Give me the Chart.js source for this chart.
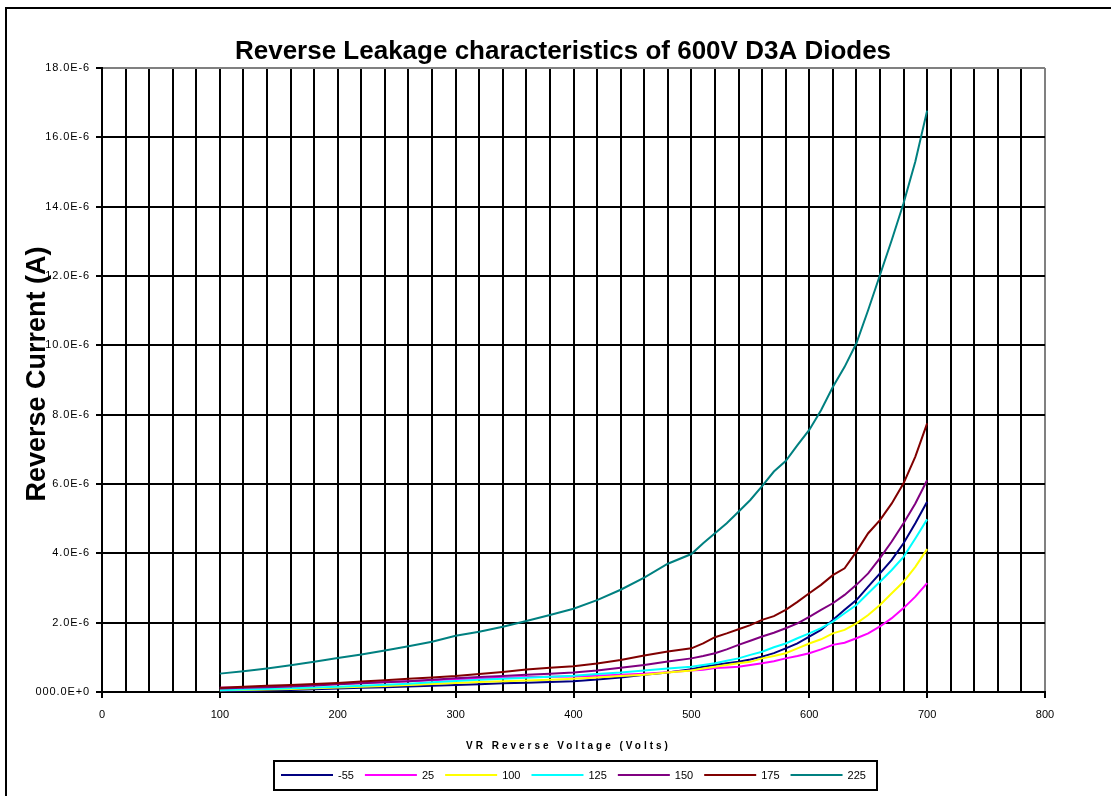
<!DOCTYPE html>
<html>
<head>
<meta charset="utf-8">
<script src="https://cdn.jsdelivr.net/npm/chart.js@4/dist/chart.umd.min.js"></script>
<style>
  html, body { margin: 0; padding: 0; background: #fff; }
  #wrap { width: 1111px; height: 796px; position: relative; }
</style>
</head>
<body>
<div id="wrap"><canvas id="c" width="1111" height="796"></canvas></div>
<script>
// ---- data (current values in units of 1E-6 A) ----
const voltages = [100,120,140,160,180,200,220,240,260,280,300,320,340,360,380,400,420,440,460,480,
                  500,510,520,530,540,550,560,570,580,590,600,610,620,630,640,650,660,670,680,690,700];
const seriesNames = ['-55','25','100','125','150','175','225'];
const seriesColors = ['#000080','#FF00FF','#FFFF00','#00FFFF','#800080','#800000','#008080'];
const iM55 = [0.00,0.02,0.04,0.06,0.08,0.10,0.12,0.14,0.16,0.18,0.20,0.22,0.25,0.27,0.29,0.31,0.36,0.42,0.50,0.56,
              0.66,0.73,0.78,0.83,0.87,0.94,1.02,1.12,1.26,1.40,1.60,1.79,2.08,2.37,2.65,3.04,3.42,3.81,4.29,4.87,5.49];
const i25  = [0.12,0.13,0.15,0.17,0.20,0.24,0.27,0.29,0.31,0.34,0.37,0.39,0.41,0.43,0.44,0.45,0.47,0.50,0.53,0.57,
              0.62,0.64,0.69,0.71,0.73,0.78,0.83,0.89,0.97,1.04,1.12,1.23,1.36,1.42,1.55,1.69,1.89,2.13,2.42,2.75,3.14];
const i100 = [0.05,0.06,0.07,0.09,0.11,0.13,0.15,0.17,0.20,0.23,0.26,0.29,0.31,0.33,0.35,0.38,0.42,0.46,0.50,0.56,
              0.62,0.68,0.73,0.78,0.83,0.87,0.97,1.04,1.12,1.26,1.40,1.52,1.69,1.79,1.98,2.22,2.51,2.85,3.18,3.61,4.12];
const i125 = [0.05,0.07,0.09,0.11,0.13,0.15,0.18,0.21,0.24,0.28,0.32,0.35,0.38,0.41,0.44,0.47,0.52,0.56,0.62,0.68,
              0.73,0.78,0.83,0.90,0.97,1.07,1.16,1.29,1.40,1.55,1.69,1.84,2.03,2.27,2.51,2.85,3.18,3.52,3.90,4.43,4.98];
const i150 = [0.10,0.12,0.14,0.16,0.19,0.22,0.25,0.28,0.31,0.35,0.40,0.43,0.46,0.50,0.53,0.56,0.62,0.70,0.78,0.88,
              0.97,1.04,1.12,1.23,1.36,1.48,1.60,1.71,1.84,1.98,2.17,2.37,2.56,2.80,3.09,3.42,3.86,4.34,4.87,5.44,6.11];
const i175 = [0.12,0.15,0.18,0.20,0.23,0.26,0.30,0.34,0.38,0.42,0.46,0.52,0.58,0.65,0.70,0.74,0.82,0.92,1.05,1.17,
              1.26,1.40,1.58,1.69,1.81,1.93,2.08,2.19,2.37,2.60,2.85,3.09,3.37,3.57,4.05,4.58,4.96,5.44,6.02,6.79,7.75];
const i225 = [0.53,0.60,0.68,0.77,0.87,0.98,1.08,1.20,1.32,1.45,1.62,1.74,1.88,2.05,2.22,2.40,2.65,2.95,3.30,3.70,
              3.98,4.29,4.58,4.87,5.20,5.54,5.94,6.36,6.66,7.12,7.56,8.13,8.80,9.38,10.06,11.02,12.03,13.04,14.10,15.30,16.77];
const seriesValues = [iM55, i25, i100, i125, i150, i175, i225];
const yTickLabels = ['000.0E+0','2.0E-6','4.0E-6','6.0E-6','8.0E-6','10.0E-6','12.0E-6','14.0E-6','16.0E-6','18.0E-6'];
const titleText = 'Reverse Leakage characteristics of 600V D3A Diodes';
const xTitleText = 'VR Reverse Voltage (Volts)';
const yTitleText = 'Reverse Current (A)';

const FONT = '"Liberation Sans", Arial, sans-serif';

const datasets = seriesNames.map((name, i) => ({
  label: name,
  data: voltages.map((v, k) => ({ x: v, y: seriesValues[i][k] })),
  borderColor: seriesColors[i],
  backgroundColor: seriesColors[i],
  borderWidth: 2,
  pointRadius: 0,
  tension: 0,
  fill: false,
  order: seriesNames.length - i
}));

const decor = {
  id: 'decor',
  beforeDraw(chart) {
    const ctx = chart.ctx;
    ctx.save();
    ctx.fillStyle = '#fff';
    ctx.fillRect(0, 0, chart.width, chart.height);
    ctx.restore();
    const ys = chart.scales.y;
    if (ys && !ys._lsPatched) {
      const orig = ys.drawLabels.bind(ys);
      ys.drawLabels = function (area) {
        const c = this.ctx;
        c.save();
        c.letterSpacing = '0.9px';
        orig(area);
        c.restore();
      };
      ys._lsPatched = true;
    }
  },
  afterDraw(chart) {
    const ctx = chart.ctx;
    ctx.save();
    // outer frame
    ctx.strokeStyle = '#000';
    ctx.lineWidth = 2;
    ctx.beginPath();
    ctx.moveTo(6, 800); ctx.lineTo(6, 8); ctx.lineTo(1115, 8);
    ctx.stroke();

    // title
    ctx.fillStyle = '#000';
    ctx.font = 'bold 26px ' + FONT;
    ctx.textAlign = 'center';
    ctx.textBaseline = 'alphabetic';
    ctx.fillText(titleText, 563, 59);

    // y title
    ctx.save();
    ctx.translate(45, 374);
    ctx.rotate(-Math.PI / 2);
    ctx.font = 'bold 27px ' + FONT;
    ctx.textAlign = 'center';
    ctx.textBaseline = 'alphabetic';
    ctx.fillText(yTitleText, 0, 0);
    ctx.restore();

    // x title
    ctx.save();
    ctx.font = 'bold 10px ' + FONT;
    ctx.letterSpacing = '3px';
    ctx.textAlign = 'left';
    ctx.textBaseline = 'alphabetic';
    ctx.fillText(xTitleText, 466, 749);
    ctx.restore();

    // legend
    ctx.lineWidth = 2;
    ctx.strokeStyle = '#000';
    ctx.strokeRect(274, 761, 603, 29);
    ctx.font = '11px ' + FONT;
    ctx.textAlign = 'left';
    ctx.textBaseline = 'middle';
    let x = 281;
    const ly = 775;
    chart.data.datasets.forEach(ds => {
      ctx.strokeStyle = ds.borderColor;
      ctx.lineWidth = 2;
      ctx.beginPath();
      ctx.moveTo(x, ly); ctx.lineTo(x + 52, ly);
      ctx.stroke();
      ctx.fillStyle = '#000';
      ctx.fillText(ds.label, x + 57, ly + 1);
      x += 52 + 5 + ctx.measureText(ds.label).width + 11;
    });
    ctx.restore();
  }
};

new Chart(document.getElementById('c'), {
  type: 'line',
  data: { datasets },
  plugins: [decor],
  options: {
    responsive: false,
    animation: false,
    devicePixelRatio: 1,
    layout: { padding: { top: 68, right: 66, left: 0, bottom: 0 } },
    plugins: { legend: { display: false }, title: { display: false }, tooltip: { enabled: false } },
    scales: {
      x: {
        type: 'linear',
        min: 0, max: 800,
        afterFit(s) { s.height = 104; },
        ticks: {
          stepSize: 20, autoSkip: false, maxRotation: 0, minRotation: 0,
          padding: 10,
          color: '#000',
          font: { family: FONT, size: 11 },
          callback: v => (v % 100 === 0 ? String(v) : '')
        },
        grid: {
          color: c => (c.tick && c.tick.value === 800 ? '#808080' : '#000'),
          lineWidth: 2,
          tickLength: 6,
          tickColor: c => (c.tick && c.tick.value % 100 === 0 ? '#000' : 'rgba(0,0,0,0)'),
          tickWidth: 2
        },
        border: { display: true, color: '#000', width: 2 }
      },
      y: {
        type: 'linear',
        min: 0, max: 18,
        afterFit(s) { s.width = 102; },
        ticks: {
          stepSize: 2,
          padding: 6,
          color: '#000',
          font: { family: FONT, size: 11 },
          callback: (v, i) => yTickLabels[i]
        },
        grid: {
          color: c => (c.tick && c.tick.value === 18 ? '#808080' : '#000'),
          lineWidth: 2,
          tickLength: 6,
          tickColor: '#000',
          tickWidth: 2
        },
        border: { display: true, color: '#000', width: 2 }
      }
    }
  }
});
</script>
</body>
</html>
